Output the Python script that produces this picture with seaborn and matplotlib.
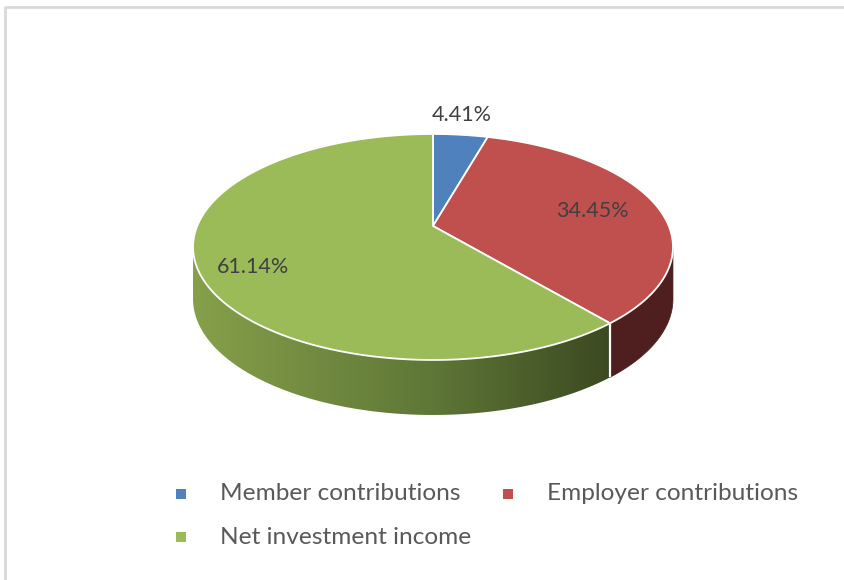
import numpy as np
import matplotlib
matplotlib.use("Agg")
import matplotlib.pyplot as plt
import seaborn as sns
from matplotlib.patches import Polygon

# Share of total additions by source (percent)
categories = ["Member contributions", "Employer contributions", "Net investment income"]
shares = [4.41, 34.45, 61.14]
value_labels = ["4.41%", "34.45%", "61.14%"]
top_colors = ["#4f81bd", "#c0504d", "#9bbb59"]
side_colors = ["#3a5f8c", "#4f1f1f", None]  # green side uses a gradient

# layout of the value labels and legend (pixels)
label_pos = [(462, 115), (592, 211), (253, 267)]
legend_pos = [(181, 494), (508, 494), (181, 537)]

sns.set_theme(style="white")
plt.rcParams["font.family"] = ["Lato", "DejaVu Sans"]

W, H = 845, 580
fig = plt.figure(figsize=(W / 100, H / 100), dpi=100)
ax = fig.add_axes([0, 0, 1, 1])
ax.set_xlim(0, W)
ax.set_ylim(H, 0)
ax.axis("off")

# perspective projection of a tilted disc
CX, CY = 433, 226
RX, RY = 235.8, 109.1
K = 0.1856
DEPTH = 51.4


def rim(theta_deg, r=1.0, drop=False):
    t = np.radians(theta_deg)
    f = 1.0 / (1.0 + K * r * np.cos(t))
    x = CX + r * RX * np.sin(t) * f
    y = CY - r * RY * np.cos(t) * f
    if drop:
        y = y + DEPTH * f ** 0.33
    return x, y


bounds = np.concatenate([[0], np.cumsum(shares)]) * 3.6
vis_lo = np.degrees(np.arccos(-K))
vis_hi = 360 - vis_lo

# side walls
for i in range(len(shares)):
    lo = max(bounds[i], vis_lo)
    hi = min(bounds[i + 1], vis_hi)
    if hi <= lo:
        continue
    th = np.linspace(lo, hi, 200)
    xt, yt = rim(th)
    xb, yb = rim(th[::-1], drop=True)
    pts = np.column_stack([np.concatenate([xt, xb]), np.concatenate([yt, yb])])
    if side_colors[i] is not None:
        ax.add_patch(Polygon(pts, closed=True, facecolor=side_colors[i],
                             edgecolor=side_colors[i], lw=0.5, zorder=1))
    else:
        clip = Polygon(pts, closed=True, facecolor="none", edgecolor="none")
        ax.add_patch(clip)
        x0, x1 = pts[:, 0].min() - 2, pts[:, 0].max() + 2
        y0, y1 = pts[:, 1].min() - 2, pts[:, 1].max() + 2
        xs = np.linspace(x0, x1, 400)
        stops_x = [x0, x0 + 0.57 * (x1 - x0), x1]
        stops_c = np.array([[0x86, 0xa0, 0x4a], [0x5f, 0x77, 0x37], [0x3b, 0x49, 0x20]]) / 255
        grad = np.stack([np.interp(xs, stops_x, stops_c[:, c]) for c in range(3)], axis=-1)
        grad = np.repeat(grad[None, :, :], 2, axis=0)
        im = ax.imshow(grad, extent=[x0, x1, y1, y0], aspect="auto",
                       interpolation="bilinear", zorder=1)
        im.set_clip_path(clip)

# white seams on the side at slice boundaries
for b in bounds[1:-1]:
    if vis_lo < b < vis_hi:
        xa, ya = rim(b)
        xb_, yb_ = rim(b, drop=True)
        ax.plot([xa, xb_], [ya, yb_], color="white", lw=1.6, zorder=2,
                solid_capstyle="butt")

# top faces
for i in range(len(shares)):
    th = np.linspace(bounds[i], bounds[i + 1], 200)
    xt, yt = rim(th)
    pts = np.column_stack([np.concatenate([[CX], xt]), np.concatenate([[CY], yt])])
    ax.add_patch(Polygon(pts, closed=True, facecolor=top_colors[i],
                         edgecolor="white", lw=1.3, joinstyle="round", zorder=3))

ax.set_xlim(0, W)
ax.set_ylim(H, 0)

# value labels
for txt, (x, y) in zip(value_labels, label_pos):
    ax.text(x, y, txt, ha="center", va="center", fontsize=15.5,
            color="#404040", zorder=5)

# legend
for name, col, (x, y) in zip(categories, top_colors, legend_pos):
    ax.scatter([x], [y], marker="s", s=42, color=col, linewidths=0, zorder=5)
    ax.text(x + 39, y, name, ha="left", va="center", fontsize=17.6,
            color="#595959", zorder=5)

# chart frame
ax.plot([5, 5, W], [H, 7, 7], color="#d9d9d9", lw=2, zorder=0,
        solid_joinstyle="round")

fig.savefig("out.png", dpi=100, facecolor="white")
